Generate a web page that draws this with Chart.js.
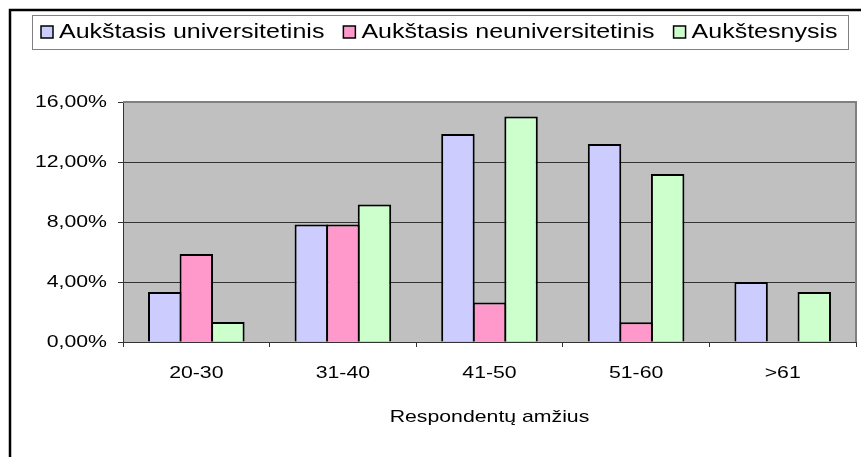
<!DOCTYPE html>
<html>
<head>
<meta charset="utf-8">
<script src="https://cdn.jsdelivr.net/npm/chart.js@4"></script>
<style>
  html, body { margin: 0; padding: 0; background: #fff; }
  canvas { display: block; }
</style>
</head>
<body>
<canvas id="myChart" width="861" height="457"></canvas>
<script>
const categories = ['20-30', '31-40', '41-50', '51-60', '>61']
const seriesNames = ['Aukštasis universitetinis', 'Aukštasis neuniversitetinis', 'Aukštesnysis']
const universitetinis = [3.33, 7.84, 13.87, 13.2, 4.0]
const neuniversitetinis = [5.87, 7.84, 2.64, 1.31, 0]
const aukstesnysis = [1.33, 9.17, 15.04, 11.2, 3.33]
const yTicks = [0, 4, 8, 12, 16]
const axisTitle = 'Respondentų amžius'
const colors = ['#CCCCFF', '#FF99CC', '#CCFFCC']

const canvas = document.getElementById('myChart')
const ctx = canvas.getContext('2d')

// the source chart has its text stretched sideways, so widen glyphs only
const SX = 1.25
const rawFill = ctx.fillText.bind(ctx)
const rawMeasure = ctx.measureText.bind(ctx)
ctx.fillText = function (text, x, y) {
    ctx.save()
    ctx.translate(x, y)
    ctx.scale(SX, 1)
    rawFill(text, 0, 0)
    ctx.restore()
}
ctx.measureText = function (text) {
    const m = rawMeasure(text)
    return {
        width: m.width * SX,
        actualBoundingBoxAscent: m.actualBoundingBoxAscent,
        actualBoundingBoxDescent: m.actualBoundingBoxDescent
    }
}

Chart.defaults.font.family = '"Liberation Sans", Arial, sans-serif'
Chart.defaults.color = '#000'

const plotArea = {
    id: 'plotArea',
    beforeDraw(chart) {
        const { left, top, width, height } = chart.chartArea
        const c = chart.ctx
        c.save()
        c.fillStyle = '#C0C0C0'
        c.fillRect(left, top, width, height)
        c.restore()
    },
    beforeDatasetsDraw(chart) {
        const { left, top, right, bottom } = chart.chartArea
        const c = chart.ctx
        c.save()
        c.strokeStyle = '#808080'
        c.lineWidth = 2
        c.beginPath()
        c.moveTo(left, top)
        c.lineTo(right, top)
        c.lineTo(right, bottom)
        c.stroke()
        c.restore()
    }
}

const legendBox = {
    id: 'legendBox',
    afterDraw(chart) {
        const c = chart.ctx
        c.save()
        c.strokeStyle = '#808080'
        c.lineWidth = 1
        c.strokeRect(32.5, 15.5, 816, 34)
        c.font = '20px "Liberation Sans", Arial, sans-serif'
        c.textBaseline = 'middle'
        c.textAlign = 'left'
        let x = 41
        chart.data.datasets.forEach((ds) => {
            c.fillStyle = ds.backgroundColor
            c.fillRect(x, 26, 12, 12)
            c.strokeStyle = '#000'
            c.lineWidth = 1.5
            c.strokeRect(x, 26, 12, 12)
            c.fillStyle = '#000'
            c.fillText(ds.label, x + 18, 32)
            x += 18 + c.measureText(ds.label).width + 19
        })
        // outer frame, runs off the right and bottom edges
        c.strokeStyle = '#000'
        c.lineWidth = 2.5
        c.strokeRect(10, 10, 900, 500)
        c.restore()
    }
}

const data = {
    labels: categories,
    datasets: [
        { label: seriesNames[0], data: universitetinis, backgroundColor: colors[0] },
        { label: seriesNames[1], data: neuniversitetinis, backgroundColor: colors[1] },
        { label: seriesNames[2], data: aukstesnysis, backgroundColor: colors[2] }
    ].map((d) => Object.assign(d, { borderColor: '#000', borderWidth: 2 }))
}

const config = {
    type: 'bar',
    data: data,
    plugins: [plotArea, legendBox],
    options: {
        responsive: false,
        animation: false,
        layout: { padding: { top: 102, right: 5, bottom: 0, left: 0 } },
        // bars slightly wider than their slot so neighbours share one outline
        datasets: { bar: { categoryPercentage: 0.646, barPercentage: 1.06 } },
        plugins: {
            legend: { display: false },
            tooltip: { enabled: false }
        },
        scales: {
            x: {
                grid: { offset: true, drawOnChartArea: false, tickLength: 5, color: '#333' },
                border: { color: '#333', width: 1 },
                ticks: { font: { size: 17 }, color: '#000', padding: 16, maxRotation: 0 },
                title: {
                    display: true, text: axisTitle, font: { size: 17 }, color: '#000',
                    padding: { top: 0, bottom: 29 }
                },
                afterFit(s) { s.height = 115 }
            },
            y: {
                min: 0,
                max: 16,
                afterBuildTicks(s) { s.ticks = yTicks.map((v) => ({ value: v })) },
                grid: { color: '#333', tickLength: 5 },
                border: { color: '#333', width: 1 },
                ticks: {
                    font: { size: 17 }, color: '#000', padding: 11,
                    callback: (v) => v.toFixed(2).replace('.', ',') + '%'
                },
                afterFit(s) { s.width = 123 }
            }
        }
    }
}

const myChart = new Chart(ctx, config)
</script>
</body>
</html>
